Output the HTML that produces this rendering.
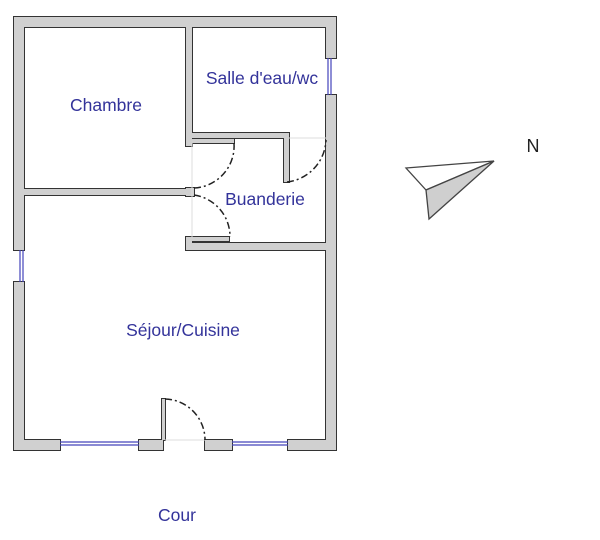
<!DOCTYPE html>
<html><head><meta charset="utf-8"><style>
html,body{margin:0;padding:0;background:#fff;width:600px;height:540px;overflow:hidden}
svg{display:block}
text{font-family:"Liberation Sans","DejaVu Sans",sans-serif;font-size:17.5px;fill:#33339a}
</style></head><body>
<svg width="600" height="540" viewBox="0 0 600 540">
<defs>
<g id="walls">
<rect x="14" y="17" width="322" height="10"/>
<rect x="14" y="17" width="10" height="233"/>
<rect x="14" y="282" width="10" height="168"/>
<rect x="326" y="17" width="10" height="41"/>
<rect x="326" y="95" width="10" height="355"/>
<rect x="14" y="440" width="46" height="10"/>
<rect x="139" y="440" width="24" height="10"/>
<rect x="205" y="440" width="27" height="10"/>
<rect x="288" y="440" width="48" height="10"/>
<rect x="186" y="27" width="6" height="119"/>
<rect x="186" y="133" width="102" height="5"/>
<rect x="284" y="133" width="5" height="49"/>
<rect x="192" y="139" width="42" height="4"/>
<rect x="24" y="189" width="164" height="6"/>
<rect x="186" y="188" width="8" height="8"/>
<rect x="187" y="237" width="42" height="4"/>
<rect x="186" y="243" width="141" height="7"/>
<rect x="186" y="237" width="6" height="13"/>
<rect x="162" y="399" width="3" height="41"/>
</g>
</defs>
<use href="#walls" fill="#d0d0d0" stroke="#333" stroke-width="2"/>
<use href="#walls" fill="#d0d0d0" stroke="none"/>
<g stroke="#4444bb" stroke-width="1.2" fill="none">
<line x1="20" y1="250" x2="20" y2="282"/><line x1="23" y1="250" x2="23" y2="282"/>
<line x1="328" y1="58" x2="328" y2="95"/><line x1="331" y1="58" x2="331" y2="95"/>
<line x1="60" y1="442" x2="139" y2="442"/><line x1="60" y1="445" x2="139" y2="445"/>
<line x1="232" y1="442" x2="288" y2="442"/><line x1="232" y1="445" x2="288" y2="445"/>
</g>
<g stroke="#ddd" stroke-width="1">
<line x1="192" y1="143" x2="192" y2="237"/>
<line x1="289" y1="138" x2="326" y2="138"/>
<line x1="165" y1="440" x2="205" y2="440"/>
</g>
<g stroke="#222" stroke-width="1.5" fill="none" stroke-dasharray="7 3 2 3">
<path d="M287 182 A44 44 0 0 0 326 140"/>
<path d="M234 143 A42 42 0 0 1 194 188"/>
<path d="M194 195 A42 42 0 0 1 230 237"/>
<path d="M165 399 A41 41 0 0 1 205 440"/>
</g>
<polygon points="406,168 494,161 426,190" fill="#fff" stroke="#444" stroke-width="1.3"/>
<polygon points="426,190 494,161 429,219" fill="#cfcfcf" stroke="#444" stroke-width="1.3"/>
<text x="106" y="111" text-anchor="middle">Chambre</text>
<text x="262" y="84" text-anchor="middle">Salle d'eau/wc</text>
<text x="265" y="205" text-anchor="middle">Buanderie</text>
<text x="183" y="336" text-anchor="middle">Séjour/Cuisine</text>
<text x="177" y="521" text-anchor="middle">Cour</text>
<text x="533" y="152" text-anchor="middle" style="fill:#222;font-size:18px">N</text>
</svg>
</body></html>
